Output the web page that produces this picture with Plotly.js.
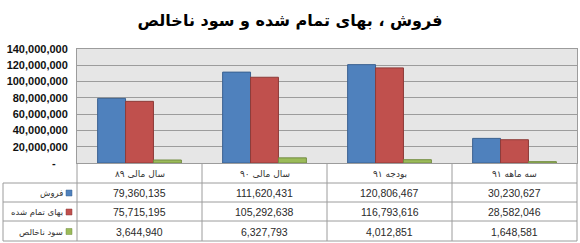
<!DOCTYPE html>
<html>
<head>
<meta charset="utf-8">
<script src="https://cdn.plot.ly/plotly-3.0.1.min.js"></script>
<style>html,body{margin:0;padding:0;background:#fff;}#chart{width:580px;height:243px;}</style>
</head>
<body>
<div id="chart"></div>
<script>
// ---- data ----
var titleText = "فروش ، بهای تمام شده و سود ناخالص";
var categories = ["سال مالی ۸۹", "سال مالی ۹۰", "بودجه ۹۱", "سه ماهه ۹۱"];
var seriesNames = ["فروش", "بهای تمام شده", "سود ناخالص"];
var sales = [79360135, 111620431, 120806467, 30230627];
var costs = [75715195, 105292638, 116793616, 28582046];
var grossProfit = [3644940, 6327793, 4012851, 1648581];
var yTickVals = [0, 20000000, 40000000, 60000000, 80000000, 100000000, 120000000, 140000000];
var yTickText = ["-<span style='color:rgba(0,0,0,0)'>00</span>", "20,000,000", "40,000,000", "60,000,000", "80,000,000", "100,000,000", "120,000,000", "140,000,000"];

// ---- style ----
var fills = ["#4F81BD", "#C0504D", "#9BBB59"];
var edges = ["#3A6190", "#8E3B39", "#738C42"];
var seriesValues = [sales, costs, grossProfit];

// geometry in px
var W = 580, H = 243;
var L = 77, R = 577, T = 49, B = 163;
function px2x(px) { return (px - L) / (R - L); }
function px2y(py) { return (B - py) / (B - T); }

var traces = seriesValues.map(function (vals, i) {
  return {
    type: "bar",
    x: categories,
    y: vals,
    name: seriesNames[i],
    marker: { color: fills[i], line: { color: edges[i], width: 1 } },
    hoverinfo: "none"
  };
});

var gridColor = "#9C9C9C";
var rowTops = [163, 183, 202, 221, 241]; // header, row1, row2, row3, bottom
var shapes = [];
for (var r = 1; r < rowTops.length; r++) {
  shapes.push({ type: "line", xref: "paper", yref: "paper",
    x0: px2x(3), x1: 1, y0: px2y(rowTops[r]), y1: px2y(rowTops[r]),
    line: { color: gridColor, width: 1 } });
}
shapes.push({ type: "line", xref: "paper", yref: "paper",
  x0: px2x(3), x1: px2x(3), y0: px2y(183), y1: px2y(241),
  line: { color: gridColor, width: 1 } });
for (var c = 0; c <= categories.length; c++) {
  shapes.push({ type: "line", xref: "paper", yref: "paper",
    x0: c / categories.length, x1: c / categories.length, y0: px2y(163), y1: px2y(241),
    line: { color: gridColor, width: 1 } });
}

var annotations = [];
var rowCenters = [173.5, 193, 212, 231.5];
categories.forEach(function (cat, i) {
  annotations.push({ xref: "paper", yref: "paper", x: (i + 0.5) / categories.length, y: px2y(rowCenters[0]),
    text: cat, showarrow: false, xanchor: "center", yanchor: "middle",
    font: { family: "DejaVu Sans", size: 9, color: "#333" } });
});
seriesValues.forEach(function (vals, s) {
  vals.forEach(function (v, i) {
    annotations.push({ xref: "paper", yref: "paper", x: (i + 0.5) / categories.length, y: px2y(rowCenters[s + 1]),
      text: v.toLocaleString("en-US"), showarrow: false, xanchor: "center", yanchor: "middle",
      font: { family: "Liberation Sans", size: 10.5, color: "#2a2a2a" } });
  });
  annotations.push({ xref: "paper", yref: "paper", x: px2x(65), y: px2y(rowCenters[s + 1]),
    text: seriesNames[s], showarrow: false, xanchor: "right", yanchor: "middle",
    font: { family: "DejaVu Sans", size: 8.5, color: "#333" } });
  shapes.push({ type: "rect", xref: "paper", yref: "paper",
    x0: px2x(66), x1: px2x(72), y0: px2y(rowCenters[s + 1] - 3), y1: px2y(rowCenters[s + 1] + 3),
    fillcolor: fills[s], line: { color: edges[s], width: 0.5 } });
});

var layout = {
  width: W, height: H,
  margin: { l: L, r: W - R, t: T, b: H - B, pad: 0 },
  paper_bgcolor: "#ffffff",
  plot_bgcolor: "#E6E6E6",
  showlegend: false,
  bargap: 0.33,
  bargroupgap: 0,
  barmode: "group",
  title: { text: "<b>" + titleText + "</b>", x: 0.5, xanchor: "center", y: 1 - 20 / H, yanchor: "middle",
    font: { family: "DejaVu Sans", size: 16, color: "#000" } },
  xaxis: { showticklabels: false, showgrid: false, zeroline: false, ticks: "",
    showline: true, linecolor: gridColor, linewidth: 1, mirror: true, fixedrange: true },
  yaxis: { range: [0, 140000000], tickvals: yTickVals, ticktext: yTickText,
    showgrid: true, gridcolor: gridColor, gridwidth: 1, zeroline: false, ticks: "",
    showline: true, linecolor: gridColor, linewidth: 1, mirror: true,
    tickfont: { family: "Liberation Sans", size: 11, color: "#111", weight: "bold" },
    ticklabelstandoff: 6, fixedrange: true },
  shapes: shapes,
  annotations: annotations
};

Plotly.newPlot("chart", traces, layout, { displayModeBar: false, staticPlot: true });
</script>
</body>
</html>
